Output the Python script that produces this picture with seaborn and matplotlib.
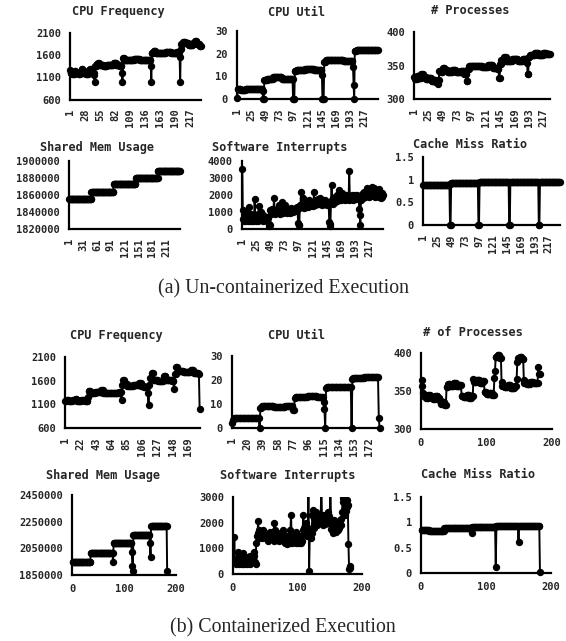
import numpy as np
import seaborn as sns
import matplotlib as mpl
mpl.use("Agg")
import matplotlib.pyplot as plt

sns.set_style("white")
plt.rcParams['font.family'] = ['DejaVu Sans Mono']
plt.rcParams['font.weight'] = 'bold'

W, H = 566, 641


def runs(pairs):
    return [v for v, n in pairs for _ in range(n)]


# ---------------- (a) un-containerized ----------------
freq_a = runs([(1260, 1), (1200, 3), (1180, 4), (1250, 2), (1200, 5), (1170, 3), (1230, 3), (1280, 2),
               (1200, 6), (1180, 4), (1260, 3), (1290, 2), (1200, 5), (1150, 1), (1000, 1),
               (1350, 3), (1400, 2), (1430, 2), (1380, 8), (1350, 6), (1370, 12), (1420, 5), (1380, 6),
               (1350, 4), (1200, 1), (1000, 1),
               (1530, 2), (1500, 10), (1480, 8), (1510, 10), (1490, 12), (1500, 8),
               (1350, 1), (1000, 1),
               (1650, 3), (1700, 4), (1660, 10), (1640, 8), (1680, 10), (1650, 10), (1670, 5),
               (1550, 1), (1000, 1),
               (1750, 1), (1850, 3), (1900, 4), (1870, 6), (1820, 8), (1880, 4), (1920, 3), (1850, 5),
               (1800, 3)])

util_a = runs([(0.5, 1), (4.5, 5), (4.0, 8), (4.6, 10), (4.2, 10), (4.5, 9), (3.5, 1), (0, 2),
               (8.5, 5), (9.0, 10), (9.5, 15), (9.0, 12), (8.8, 7), (0, 3),
               (12.5, 3), (13.0, 15), (13.2, 15), (13.0, 13), (10.5, 1), (0, 3),
               (16.5, 3), (17.2, 15), (17.0, 15), (16.8, 16), (14.0, 1), (6.0, 1), (0, 1),
               (21.0, 3), (21.5, 20), (21.6, 17)])

procs_a = runs([(333, 2), (330, 3), (335, 3), (332, 4), (337, 3), (333, 5), (330, 4), (331, 5),
                (327, 4), (329, 3), (325, 3), (322, 1),
                (328, 2), (342, 3), (340, 3), (347, 3), (343, 5), (341, 8), (344, 6), (340, 8),
                (342, 6), (338, 4), (327, 2),
                (345, 2), (349, 10), (350, 12), (348, 10), (351, 8), (347, 8), (345, 2), (332, 2),
                (352, 2), (358, 5), (362, 3), (357, 10), (359, 10), (356, 8), (360, 7), (354, 1),
                (338, 2),
                (362, 2), (366, 8), (368, 6), (366, 8), (369, 5), (367, 7)])

shmem_a = runs([(1855000, 48), (1864000, 48), (1872500, 48), (1880500, 48), (1888500, 48)])

softirq_a = [3550, 600, 1100, 500, 650, 450, 800, 550, 1000, 600,
             500, 1300, 700, 450, 600, 900, 500, 550, 700, 450,
             600, 1750, 800, 500, 650, 550, 900, 500, 1350, 700,
             600, 1000, 550, 700, 900, 600, 500, 750, 650, 550,
             700, 600, 500, 650, 700, 300, 200, 250, 1100, 900,
             1000, 1150, 950, 1000, 1800, 1100, 900, 1000, 1050, 1200,
             950, 1000, 1400, 1100, 900, 1050, 1000, 1600, 1150, 1000,
             950, 1100, 1400, 1050, 1000, 1200, 950, 1000, 1100, 1050,
             1000, 950, 1100, 1250, 1000, 1050, 1150, 1000, 1200, 1100,
             1050, 1250, 1100, 1300, 1200, 350, 250, 250, 1300, 1400,
             2150, 1500, 1300, 1800, 1400, 1250, 1500, 1350, 1600, 1300,
             1400, 1550, 1300, 1450, 1700, 1350, 1500, 1400, 1600, 1450,
             1350, 1500, 2150, 1600, 1400, 1550, 1700, 1450, 1500, 1750,
             1600, 1450, 1500, 1800, 1650, 1500, 1400, 1700, 1550, 1600,
             1500, 1700, 1450, 1600, 1500, 1400, 1550, 1500, 400, 200,
             300, 1600, 2600, 1700, 1500, 1800, 1650, 1600, 1900, 1700,
             1800, 1650, 2000, 1750, 1700, 2300, 1850, 1800, 1700, 1900,
             2100, 1750, 1800, 1950, 1700, 1850, 1800, 2000, 1750, 1900,
             1800, 1700, 3400, 1850, 1750, 1900, 2000, 1800, 1700, 1850,
             1950, 1800, 2000, 1750, 1900, 1850, 2000, 1800, 1950, 1200,
             800, 250, 1700, 2000, 1900, 2100, 1850, 2000, 2200, 1900,
             2100, 1950, 2000, 2400, 2050, 1900, 2100, 2000, 2200, 1950,
             2500, 2100, 2300, 2000, 2150, 2400, 1900, 2100, 2000, 2200,
             1950, 2100, 2350, 1900, 2000, 2200, 1850, 2100, 1900, 2000]

cache_a = runs([(0.88, 46), (0, 2), (0.93, 47), (0, 2), (0.94, 51), (0, 2), (0.95, 49), (0, 2),
                (0.95, 35)])

# ---------------- (b) containerized ----------------
freq_b = runs([(1180, 2), (1200, 3), (1170, 5), (1190, 4), (1220, 2), (1180, 6), (1200, 5), (1170, 4),
               (1250, 1), (1380, 3), (1350, 6), (1370, 8), (1400, 3), (1350, 10), (1340, 12),
               (1360, 3), (1200, 1),
               (1500, 1), (1620, 2), (1520, 4), (1480, 8), (1500, 8), (1550, 3), (1490, 4), (1470, 5),
               (1350, 1), (1080, 1),
               (1500, 1), (1650, 3), (1760, 2), (1620, 6), (1600, 8), (1700, 3), (1620, 8), (1600, 3),
               (1420, 1),
               (1750, 2), (1880, 2), (1800, 8), (1780, 10), (1820, 4), (1760, 7), (1750, 1), (1000, 1)])

util_b = runs([(2.0, 1), (3.5, 1), (4.2, 10), (4.0, 12), (4.3, 10), (0, 1),
               (8.5, 2), (9.0, 15), (8.8, 14), (9.2, 10), (7.5, 2),
               (12.5, 1), (13.0, 15), (13.2, 12), (13.0, 8), (11.0, 1), (8.0, 1), (0, 1),
               (16.5, 1), (17.0, 15), (17.2, 16), (0, 1),
               (20.5, 1), (21.0, 14), (21.3, 18), (4.0, 1), (0, 1)])

procs_b = runs([(365, 1), (357, 1), (347, 1), (343, 4), (341, 3), (345, 3), (342, 5), (340, 3),
                (344, 4), (341, 3), (337, 2), (333, 3), (335, 2), (332, 3),
                (355, 2), (359, 4), (357, 5), (360, 4), (356, 5), (358, 3),
                (344, 3), (342, 5), (345, 4), (341, 3), (343, 3),
                (366, 1), (362, 4), (364, 5), (361, 4), (363, 3),
                (349, 3), (346, 5), (348, 4), (345, 3),
                (367, 1), (376, 1), (395, 3), (397, 3), (394, 3),
                (362, 1), (357, 4), (355, 5), (358, 4), (354, 6), (356, 3),
                (366, 1), (388, 1), (393, 3), (395, 3), (392, 3),
                (365, 1), (361, 4), (359, 5), (362, 5), (360, 3),
                (361, 4), (381, 1), (372, 2)])

shmem_b = runs([(1945000, 35), (2012500, 43), (1945000, 1), (2087500, 35),
                (2025000, 1), (1917500, 1), (1880000, 1), (2150000, 32),
                (2087500, 1), (1987500, 1), (2220000, 31), (1880000, 1)])

softirq_b = [450, 1450, 500, 400, 600, 450, 850, 500, 700, 400,
             750, 450, 500, 400, 550, 800, 400, 450, 600, 450,
             500, 400, 650, 450, 550, 700, 400, 500, 450, 600,
             550, 850, 700, 450, 400, 1200, 1500, 1600, 2050, 1400,
             1700, 1500, 1600, 1650, 1400, 1550, 1700, 1500, 1450, 1600,
             1500, 1350, 1400, 1550, 1300, 1450, 1500, 1650, 1400, 1350,
             1500, 1400, 1300, 2000, 1700, 1450, 1350, 1500, 1600, 1400,
             1450, 1300, 1550, 1400, 1500, 1350, 1600, 1700, 1450, 1300,
             1200, 1400, 1250, 1150, 1350, 1500, 1300, 1200, 1700, 2300,
             1300, 1200, 1400, 1250, 1500, 1300, 1200, 1650, 1350, 1250,
             1400, 1200, 1300, 1250, 1500, 1200, 1300, 1700, 2300, 1800,
             1600, 1900, 2000, 1750, 1500, 1800, 3600, 120, 1500, 1700,
             1400, 1600, 2300, 2500, 1800, 2200, 2000, 2400, 2100, 1900,
             2200, 2000, 2300, 2100, 2050, 2200, 3700, 2000, 2300, 1900,
             2200, 2100, 1950, 2300, 2000, 2150, 2400, 2000, 2250, 2100,
             3800, 1750, 2000, 1700, 1600, 1800, 2100, 1700, 1650, 1800,
             1900, 1750, 1700, 1850, 1800, 2100, 1900, 2150, 2400, 2950,
             2800, 2500, 2300, 2700, 2450, 2600, 2900, 2700, 1150, 200,
             250, 300]

cache_b = runs([(0.85, 12), (0.83, 23), (0.89, 42), (0.79, 1), (0.91, 36), (0.12, 1),
                (0.92, 34), (0.61, 1), (0.93, 32), (0.02, 1)])

fig = plt.figure(figsize=(W / 100, H / 100), dpi=100)


def px_axes(l, t, r, b):
    return fig.add_axes([l / W, 1 - b / H, (r - l) / W, (b - t) / H])


def draw(box, y, yticks, ylabels, step=None, xticks=None, clip=False):
    ax = px_axes(*box)
    x = np.arange(len(y)) if step else np.arange(1, len(y) + 1)
    sns.lineplot(x=x, y=y, ax=ax, color="black", marker="o", markersize=5.3,
                 markeredgewidth=0, linewidth=1.4)
    ax.lines[-1].set_clip_on(clip)
    ax.set_ylim(yticks[0], yticks[-1])
    ax.set_yticks(yticks)
    ax.set_yticklabels(ylabels, fontsize=7.5, fontweight="bold")
    if step:
        ax.set_xlim(-0.5, len(y) - 0.5)
        pos = np.arange(0, len(y), step)
        ax.set_xticks(pos)
        ax.set_xticklabels([str(p + 1) for p in pos], rotation=90, fontsize=7.5, fontweight="bold")
    else:
        ax.set_xlim(xticks[0], xticks[-1])
        ax.set_xticks(xticks)
        ax.set_xticklabels([str(t) for t in xticks], fontsize=7.5, fontweight="bold")
    for s in ["top", "right"]:
        ax.spines[s].set_visible(False)
    for s in ["left", "bottom"]:
        ax.spines[s].set_linewidth(1.6)
        ax.spines[s].set_color("black")
    ax.tick_params(axis="y", length=0, pad=6.5)
    ax.tick_params(axis="x", length=0, pad=6.5)
    ax.set_xlabel("")
    ax.set_ylabel("")
    return ax


def title(x, y, s):
    fig.text(x / W, 1 - y / H, s, ha="center", va="center", fontsize=8.6, fontweight="bold")


num_x = [0, 100, 200]

draw((70, 33, 201, 99.5), freq_a, [600, 1100, 1600, 2100], ["600", "1100", "1600", "2100"], step=27)
draw((237, 31, 378, 99), util_a, [0, 10, 20, 30], ["0", "10", "20", "30"], step=24)
draw((414, 32, 550, 99), procs_a, [300, 350, 400], ["300", "350", "400"], step=24)
draw((69, 161, 180, 229), shmem_a, [1820000, 1840000, 1860000, 1880000, 1900000],
     ["1820000", "1840000", "1860000", "1880000", "1900000"], step=30)
draw((242, 161, 383, 229), softirq_a, [0, 1000, 2000, 3000, 4000],
     ["0", "1000", "2000", "3000", "4000"], step=24)
draw((423, 157, 560, 225), cache_a, [0, 0.5, 1, 1.5], ["0", "0.5", "1", "1.5"], step=24)

draw((65, 357, 200, 428), freq_b, [600, 1100, 1600, 2100], ["600", "1100", "1600", "2100"], step=21)
draw((232, 356, 380, 428), util_b, [0, 10, 20, 30], ["0", "10", "20", "30"], step=19)
draw((421, 353, 552, 429), procs_b, [300, 350, 400], ["300", "350", "400"], xticks=num_x)
draw((72, 495, 176, 575), shmem_b, [1850000, 2050000, 2250000, 2450000],
     ["1850000", "2050000", "2250000", "2450000"], xticks=num_x)
draw((233, 497, 362, 574), softirq_b, [0, 1000, 2000, 3000], ["0", "1000", "2000", "3000"],
     xticks=num_x, clip=True)
draw((421, 497, 551, 573), cache_b, [0, 0.5, 1, 1.5], ["0", "0.5", "1", "1.5"], xticks=num_x)

title(118, 12, "CPU Frequency")
title(297, 12, "CPU Util")
title(470, 10, "# Processes")
title(97, 147, "Shared Mem Usage")
title(280, 147, "Software Interrupts")
title(470, 145, "Cache Miss Ratio")
title(116, 335, "CPU Frequency")
title(296, 335, "CPU Util")
title(473, 332, "# of Processes")
title(103, 475, "Shared Mem Usage")
title(288, 475, "Software Interrupts")
title(478, 475, "Cache Miss Ratio")

fig.text(283 / W, 1 - 289 / H, "(a) Un-containerized Execution", ha="center", va="center",
         family="Liberation Serif", fontweight="normal", fontsize=14.3)
fig.text(283 / W, 1 - 628 / H, "(b) Containerized Execution", ha="center", va="center",
         family="Liberation Serif", fontweight="normal", fontsize=14.3)

fig.savefig("out.png", dpi=100)
